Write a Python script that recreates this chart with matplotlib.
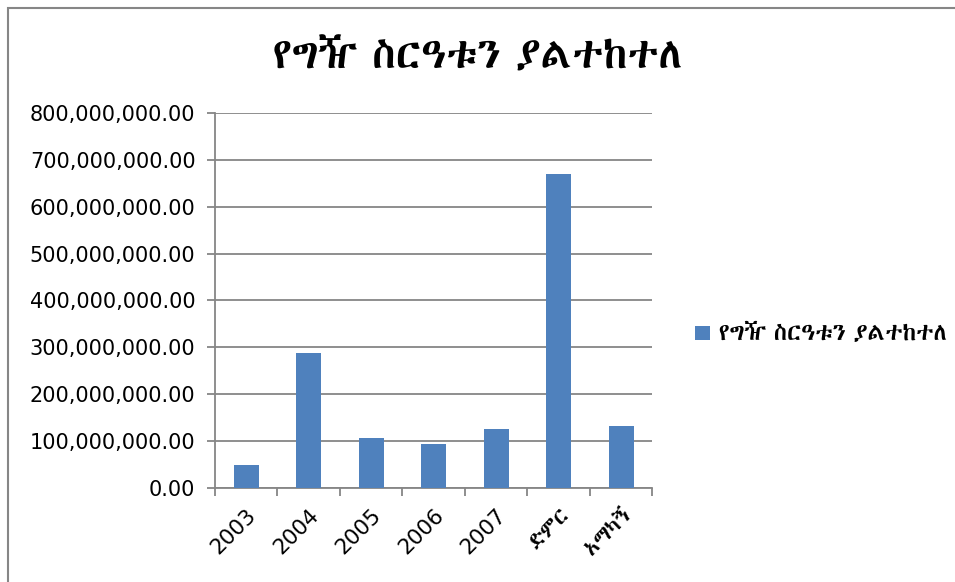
import numpy as np
import matplotlib
matplotlib.use("Agg")
import matplotlib.pyplot as plt
from matplotlib import font_manager
from matplotlib.ft2font import FT2Font
from matplotlib.patches import Rectangle
from matplotlib.ticker import FuncFormatter, MultipleLocator

title = "የግዥ ስርዓቱን ያልተከተለ"
series_name = "የግዥ ስርዓቱን ያልተከተለ"
categories = ["2003", "2004", "2005", "2006", "2007", "ድምር", "አማካኝ"]
values = [50e6, 287e6, 106e6, 94e6, 125e6, 670e6, 132e6]


def find_fonts(ch):
    # installed fonts that have Ethiopic glyphs, proportional ones first
    found = []
    for f in font_manager.fontManager.ttflist:
        try:
            if ord(ch) in FT2Font(f.fname).get_charmap():
                if f.name not in found:
                    found.append(f.name)
        except Exception:
            pass
    found.sort(key=lambda n: ("Mono" in n, n))
    return found


eth = find_fonts("የ")
fams = ["DejaVu Sans"] + eth[:1]
plt.rcParams["font.family"] = fams

fig = plt.figure(figsize=(9.55, 5.82), dpi=100)
ax = fig.add_axes([0.225, 0.1615, 0.458, 0.6445])

x = np.arange(len(categories))
ax.bar(x, values, 0.4, color="#4F81BD", label=series_name, zorder=3)

ax.set_xlim(-0.5, len(categories) - 0.5)
ax.set_ylim(0, 800e6)
ax.yaxis.set_major_locator(MultipleLocator(100e6))
ax.yaxis.set_major_formatter(FuncFormatter(lambda v, p: "{:,.2f}".format(v)))
ax.grid(axis="y", color="#868686", linewidth=1.3, zorder=0)

ax.set_xticks(x)
ax.set_xticklabels(categories, rotation=45, ha="right", rotation_mode="anchor",
                   fontsize=15.5)
ax.set_xticks(np.arange(-0.5, len(categories)), minor=True)
ax.tick_params(axis="x", which="major", length=0, pad=12)
ax.tick_params(axis="x", which="minor", length=6, color="#868686", width=1.3)
ax.tick_params(axis="y", length=6, color="#868686", width=1.3, labelsize=15, pad=8)

for s in ["top", "right"]:
    ax.spines[s].set_visible(False)
for s in ["left", "bottom"]:
    ax.spines[s].set_color("#868686")
    ax.spines[s].set_linewidth(1.3)

t = fig.text(0.5, 0.903, title, ha="center", va="center", fontsize=30,
             fontweight="bold")

leg = ax.legend(loc="center left", bbox_to_anchor=(1.098, 0.413), frameon=False,
                fontsize=14.5, handlelength=0.75, handleheight=0.75,
                handletextpad=0.45, borderpad=0, borderaxespad=0)

# size the Ethiopic texts to the widths seen in the reference
r = fig.canvas.get_renderer()
w = t.get_window_extent(r).width
t.set_fontsize(30 * 410 / w)
lt = leg.get_texts()[0]
w = lt.get_window_extent(r).width
lt.set_fontsize(14.5 * 228 / w)

fig.patches.append(Rectangle((8 / 955, -0.1), 1.2, 574 / 582 + 0.1,
                             transform=fig.transFigure, fill=False,
                             edgecolor="#868686", linewidth=1.5))

fig.savefig("out.png", dpi=100)
